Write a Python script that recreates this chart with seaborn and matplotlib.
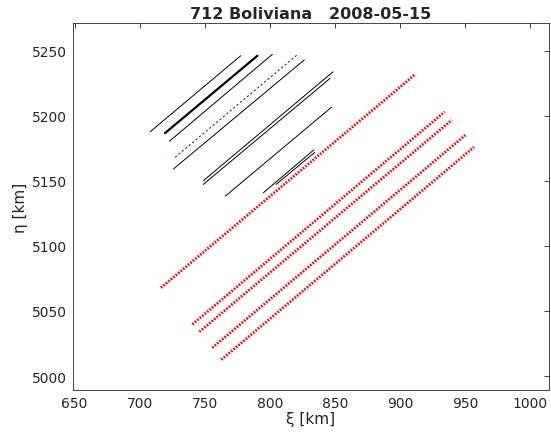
import matplotlib
matplotlib.use('Agg')
import matplotlib.pyplot as plt
import seaborn as sns

# black track segments (start / end, km)
black_x0 = [708.0, 719.5, 722.8, 725.9, 748.9, 748.9, 765.8, 795.0, 804.8]
black_y0 = [5187.6, 5186.6, 5180.3, 5159.0, 5150.0, 5147.2, 5138.2, 5140.8, 5147.2]
black_x1 = [777.6, 790.4, 801.9, 826.5, 848.5, 846.2, 847.5, 833.9, 834.5]
black_y1 = [5246.0, 5246.0, 5247.1, 5242.9, 5233.7, 5228.6, 5206.6, 5173.8, 5171.8]

# blue dashed segment
blue_x = [727.2, 820.7]
blue_y = [5168.0, 5246.5]

# red dotted segments
red_x0 = [716.4, 740.5, 745.9, 755.8, 762.7]
red_y0 = [5067.8, 5039.7, 5034.0, 5021.7, 5012.5]
red_x1 = [911.0, 934.3, 939.7, 950.2, 956.8]
red_y1 = [5231.2, 5203.0, 5196.6, 5185.1, 5175.9]

xticks = [650, 700, 750, 800, 850, 900, 950, 1000]
yticks = [5000, 5050, 5100, 5150, 5200, 5250]

sns.set_style('white')
plt.rcParams['font.family'] = ['DejaVu Sans']

fig = plt.figure(figsize=(5.51, 4.35), dpi=100)
ax = fig.add_axes([0.132, 0.101, 0.8644, 0.843])

lw = [0.7, 1.6, 0.7, 0.7, 0.7, 0.7, 0.7, 0.7, 0.7]
for i in range(len(black_x0)):
    sns.lineplot(x=[black_x0[i], black_x1[i]], y=[black_y0[i], black_y1[i]],
                 sort=False, estimator=None, color='black', linewidth=lw[i], ax=ax)

sns.lineplot(x=blue_x, y=blue_y, sort=False, estimator=None, color='blue',
             linewidth=0.7, linestyle=(0, (2.3, 2.3)), ax=ax)

for i in range(len(red_x0)):
    sns.lineplot(x=[red_x0[i], red_x1[i]], y=[red_y0[i], red_y1[i]],
                 sort=False, estimator=None, color='red', linewidth=2.0,
                 linestyle=(0, (0.6, 0.55)), ax=ax)

ax.set_xlim(648.6, 1014.4)
ax.set_ylim(4989.2, 5270.9)
ax.set_xticks(xticks)
ax.set_yticks(yticks)
ax.tick_params(direction='in', top=True, right=True, length=3.5, width=0.6,
               color='#262626', labelcolor='#262626', labelsize=10, pad=4)
for s in ax.spines.values():
    s.set_color('#262626')
    s.set_linewidth(0.6)

ax.set_xlabel('ξ [km]', fontsize=11, color='#262626', labelpad=1)
ax.set_ylabel('η [km]', fontsize=11, color='#262626', labelpad=3)
ax.set_title('712 Boliviana   2008-05-15', fontsize=11.5, fontweight='bold', pad=4)

fig.savefig('out.png', dpi=100)
